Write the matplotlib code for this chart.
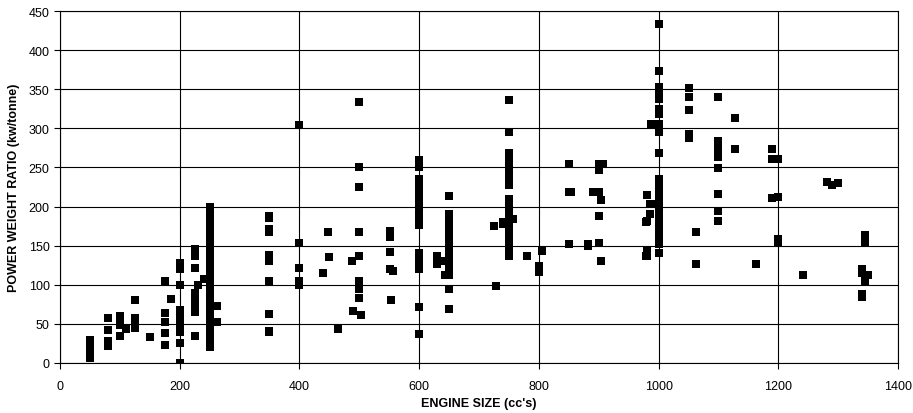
import matplotlib.pyplot as plt
import numpy as np

plt.rcParams["font.family"] = ["Liberation Sans", "DejaVu Sans"]

# (engine size, power/weight) readings, one cluster per line
engine_cc = (
    [50] * 6
    + [80] * 4 + [100] * 4 + [110] + [125] * 4 + [150]
    + [175] * 5 + [185] + [200] * 12
    + [225] * 8 + [230, 240]
    + [250] * 20 + [262, 262]
    + [350] * 10 + [400] * 5 + [440, 447, 450, 464, 487, 490]
    + [500] * 9 + [503]
    + [551] * 4 + [557, 553]
    + [600] * 20 + [629, 629, 640, 643]
    + [650] * 14
    + [725, 728, 740, 740]
    + [750] * 19 + [757, 780]
    + [800] * 3 + [805]
    + [850] * 3 + [853, 882, 882, 890]
    + [900] * 5 + [904, 904, 907]
    + [980] * 4 + [985, 985, 988]
    + [1000] * 30 + [979, 979, 987, 990]
    + [1051] * 5 + [1063, 1063]
    + [1100] * 8 + [1127, 1127, 1163]
    + [1189] * 3 + [1200] * 4 + [1241]
    + [1281, 1290, 1300]
    + [1339] * 4 + [1345] * 4 + [1350]
)
power_weight = (
    [6, 10, 15, 20, 25, 30]
    + [57, 42, 28, 22] + [60, 50, 48, 35] + [43] + [80, 57, 50, 45] + [33]
    + [105, 64, 53, 38, 23] + [82] + [128, 125, 120, 100, 68, 60, 55, 50, 45, 40, 25, 0]
    + [146, 137, 122, 90, 80, 70, 65, 35] + [100, 107]
    + [200, 195, 185, 175, 165, 155, 145, 135, 125, 115,
       105, 95, 85, 75, 65, 55, 45, 35, 25, 20] + [73, 52]
    + [188, 185, 171, 168, 138, 130, 105, 62, 41, 40] + [304, 153, 122, 105, 100]
    + [115, 167, 136, 44, 130, 67]
    + [334, 250, 225, 167, 137, 105, 100, 95, 83] + [61]
    + [169, 161, 142, 120] + [118, 80]
    + [260, 255, 250, 235, 225, 215, 205, 200, 195, 190,
       185, 180, 176, 141, 135, 130, 125, 120, 71, 37] + [137, 127, 131, 113]
    + [214, 190, 180, 171, 161, 152, 146, 140, 133, 125, 122, 112, 94, 69]
    + [175, 99, 178, 180]
    + [336, 295, 268, 262, 255, 245, 237, 228, 210, 205,
       198, 190, 180, 172, 165, 158, 150, 143, 137] + [184, 137]
    + [124, 120, 116] + [143]
    + [255, 218, 152] + [218, 152, 149, 218]
    + [255, 247, 218, 188, 153] + [209, 131, 254]
    + [215, 181, 144, 137] + [203, 190, 305]
    + [433, 373, 353, 346, 338, 325, 318, 306, 295, 269,
       235, 226, 220, 214, 201, 192, 185, 180, 175, 167,
       160, 154, 152, 141, 233, 216, 203, 171, 158, 200]
    + [180, 137, 203, 306]
    + [352, 340, 323, 293, 288] + [167, 127]
    + [340, 284, 273, 263, 249, 216, 194, 182] + [313, 273, 127]
    + [273, 261, 211] + [261, 212, 158, 155] + [113]
    + [232, 228, 230]
    + [120, 115, 88, 85] + [163, 153, 110, 105] + [112]
)

fig = plt.figure(figsize=(9.13, 4.14), dpi=100)
ax = fig.add_axes([0.0657, 0.1208, 0.9179, 0.8502])

ax.scatter(engine_cc, power_weight, marker="s", s=26, color="black",
           linewidths=0, zorder=3)

ax.set_xlim(0, 1400)
ax.set_ylim(0, 450)
ax.set_xticks(np.arange(0, 1401, 200))
ax.set_yticks(np.arange(0, 451, 50))
ax.grid(True, color="black", linewidth=0.8)
ax.set_axisbelow(True)
for s in ax.spines.values():
    s.set_color("black")
    s.set_linewidth(0.8)
ax.tick_params(axis="both", labelsize=9, length=4, width=0.8, colors="black")
ax.tick_params(axis="x", pad=8)

ax.set_xlabel("ENGINE SIZE (cc's)", fontsize=9, fontweight="bold", labelpad=4)
ax.set_ylabel("POWER WEIGHT RATIO (kw/tonne)", fontsize=9, fontweight="bold",
              labelpad=6)

fig.savefig("out.png", dpi=100)
